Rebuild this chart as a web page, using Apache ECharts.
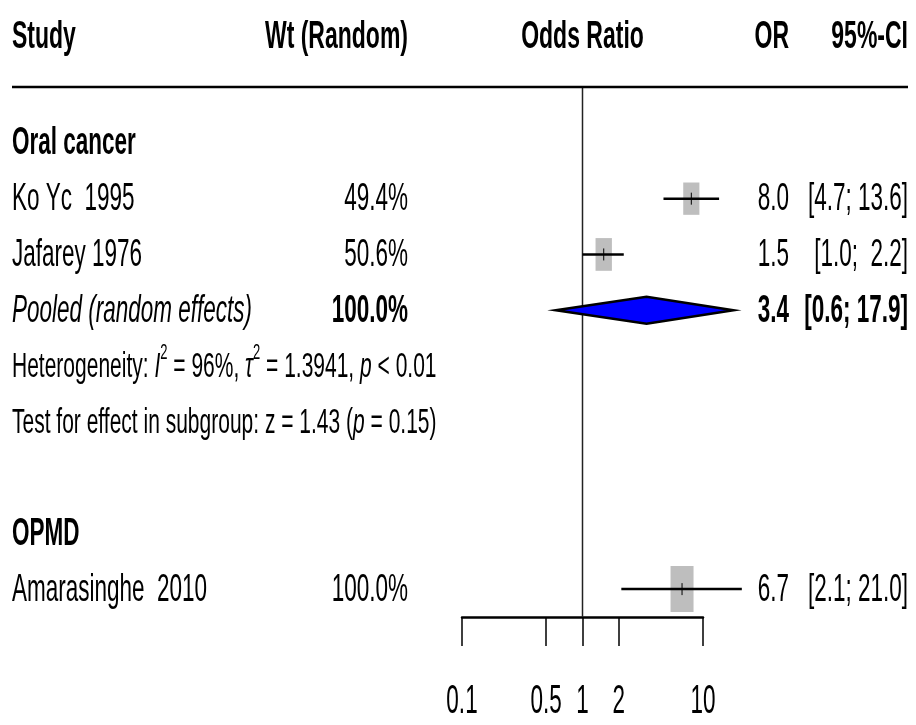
<!DOCTYPE html>
<html>
<head>
<meta charset="utf-8">
<script src="https://cdn.jsdelivr.net/npm/echarts@6/dist/echarts.min.js"></script>
<style>
  html, body { margin: 0; padding: 0; background: #fff; }
  #chart { width: 916px; height: 725px; }
</style>
</head>
<body>
<div id="chart"></div>
<script>
// ---- Study data (odds ratios with 95% confidence intervals) ----
const groupNames = ['Oral cancer', 'OPMD'];
const studyNames = ['Ko Yc  1995', 'Jafarey 1976', 'Amarasinghe  2010'];
const studyGroups = ['Oral cancer', 'Oral cancer', 'OPMD'];
const studyOR = [8.0, 1.5, 6.7];
const studyLower = [4.7, 1.0, 2.1];
const studyUpper = [13.6, 2.2, 21.0];
const studyWeight = [49.4, 50.6, 100.0];

// ---- Random-effects pooled estimates per subgroup ----
const pooledGroups = ['Oral cancer'];
const pooledOR = [3.4];
const pooledLower = [0.6];
const pooledUpper = [17.9];
const pooledWeight = [100.0];
const hetI2 = [96];
const hetTau2 = ['1.3941'];
const hetP = ['< 0.01'];
const testZ = ['1.43'];
const testP = ['0.15'];

// ---- Axis ticks ----
const tickValues = [0.1, 0.5, 1, 2, 10];
const tickLabels = ['0.1', '0.5', '1', '2', '10'];

// ---- Column headers ----
const headers = { study: 'Study', weight: 'Wt (Random)', effect: 'Odds Ratio', or: 'OR', ci: '95%-CI' };

// ---- Appearance ----
const FONT = "'Liberation Sans', Arial, Helvetica, sans-serif";
const SY = 1.7;           // vertical stretch of the text
const SIZE = 22.5;        // body text size
const SQUARE = 23;        // width of a square at 100% weight
const COL_STUDY = 12, COL_WT = 408, COL_OR = 789, COL_CI = 908;

// Build the table rows (one y-category per row)
const rows = [];
groupNames.forEach((g, gi) => {
  if (gi > 0) rows.push({ kind: 'spacer' });
  rows.push({ kind: 'group', name: g });
  studyNames.forEach((s, si) => {
    if (studyGroups[si] === g) rows.push({ kind: 'study', idx: si });
  });
  const pi = pooledGroups.indexOf(g);
  if (pi >= 0) {
    rows.push({ kind: 'pooled', idx: pi });
    rows.push({ kind: 'het', idx: pi });
    rows.push({ kind: 'test', idx: pi });
  }
});
const rowIndexOfStudy = studyNames.map((s, si) => rows.findIndex(r => r.kind === 'study' && r.idx === si));
const rowIndexOfPooled = pooledGroups.map((g, pi) => rows.findIndex(r => r.kind === 'pooled' && r.idx === pi));

const fmt1 = v => v.toFixed(1);
const ciText = (lo, hi) => '[' + fmt1(lo) + '; ' + fmt1(hi).padStart(4, ' ') + ']';

function label(x, y, text, align, o) {
  o = o || {};
  const style = {
    text: text, x: 0, y: 0, align: align, verticalAlign: 'middle', fill: '#000',
    fontSize: o.size || SIZE, fontFamily: FONT,
    fontWeight: o.weight || 'normal', fontStyle: o.italic ? 'italic' : 'normal'
  };
  if (o.rich) style.rich = o.rich;
  return { type: 'text', x: x, y: y, scaleY: o.scaleY || SY, silent: true, style: style };
}

function richStyles(size) {
  const base = { fontSize: size, fontFamily: FONT, lineHeight: 30, verticalAlign: 'middle', fill: '#000' };
  return {
    n: Object.assign({}, base),
    i: Object.assign({}, base, { fontStyle: 'italic' }),
    s: { fontSize: 13, fontFamily: FONT, lineHeight: 12, verticalAlign: 'top', fill: '#000' }
  };
}

function bandOf(api) { return api.size([0, 1])[1]; }

// Text columns for every table row
function renderTable(params, api) {
  const r = rows[params.dataIndex];
  const y = api.coord([1, params.dataIndex])[1] + 1;
  const kids = [];
  if (r.kind === 'group') {
    kids.push(label(COL_STUDY, y, r.name, 'left', { weight: 'bold' }));
  } else if (r.kind === 'study') {
    const i = r.idx;
    kids.push(label(COL_STUDY, y, studyNames[i], 'left'));
    kids.push(label(COL_WT, y, fmt1(studyWeight[i]) + '%', 'right'));
    kids.push(label(COL_OR, y, fmt1(studyOR[i]), 'right'));
    kids.push(label(COL_CI, y, ciText(studyLower[i], studyUpper[i]), 'right'));
  } else if (r.kind === 'pooled') {
    const i = r.idx;
    kids.push(label(COL_STUDY, y, 'Pooled (random effects)', 'left', { italic: true }));
    kids.push(label(COL_WT, y, fmt1(pooledWeight[i]) + '%', 'right', { weight: 'bold' }));
    kids.push(label(COL_OR, y, fmt1(pooledOR[i]), 'right', { weight: 'bold' }));
    kids.push(label(COL_CI, y, ciText(pooledLower[i], pooledUpper[i]), 'right', { weight: 'bold' }));
  } else if (r.kind === 'het') {
    const i = r.idx;
    const t = '{n|Heterogeneity: }{i|I}{s|2}{n| = ' + hetI2[i] + '%, }{i|\u03c4}{s|2}{n| = ' + hetTau2[i] + ', }{i|p}{n| ' + hetP[i] + '}';
    kids.push(label(COL_STUDY, y, t, 'left', { size: 21, rich: richStyles(21) }));
  } else if (r.kind === 'test') {
    const i = r.idx;
    const t = '{n|Test for effect in subgroup: z = ' + testZ[i] + ' (}{i|p}{n| = ' + testP[i] + ')}';
    kids.push(label(COL_STUDY, y, t, 'left', { size: 21, rich: richStyles(21) }));
  }
  return { type: 'group', children: kids };
}

// Column headings, rule under them and the line of no effect
function renderFrame(params, api) {
  const band = bandOf(api);
  const top = api.coord([1, 0])[1];
  const bottom = api.coord([1, rows.length - 1])[1] + band / 2;
  const ruleY = top - band;
  const headY = top - 1.9 * band;
  const x1 = api.coord([1, 0])[0];
  return {
    type: 'group',
    children: [
      { type: 'line', silent: true, shape: { x1: x1, y1: ruleY, x2: x1, y2: bottom }, style: { stroke: '#222', lineWidth: 1.5 } },
      { type: 'line', silent: true, shape: { x1: COL_STUDY, y1: ruleY, x2: COL_CI, y2: ruleY }, style: { stroke: '#000', lineWidth: 2.5 } },
      label(COL_STUDY, headY, headers.study, 'left', { weight: 'bold', size: 23 }),
      label(COL_WT, headY, headers.weight, 'right', { weight: 'bold', size: 23 }),
      label(x1, headY, headers.effect, 'center', { weight: 'bold', size: 23 }),
      label(COL_OR, headY, headers.or, 'right', { weight: 'bold', size: 23 }),
      label(COL_CI, headY, headers.ci, 'right', { weight: 'bold', size: 23 })
    ]
  };
}

// Study squares with confidence interval lines
function renderStudy(params, api) {
  const row = api.value(1);
  const c = api.coord([api.value(0), row]);
  const lo = api.coord([api.value(2), row]);
  const hi = api.coord([api.value(3), row]);
  const w = SQUARE * Math.sqrt(api.value(4) / 100);
  const h = w * 2;
  return {
    type: 'group',
    children: [
      { type: 'rect', shape: { x: c[0] - w / 2, y: c[1] - h / 2, width: w, height: h }, style: { fill: '#bebebe' } },
      { type: 'line', shape: { x1: lo[0], y1: c[1], x2: hi[0], y2: c[1] }, style: { stroke: '#000', lineWidth: 2.5 } },
      { type: 'line', shape: { x1: c[0], y1: c[1] - 6, x2: c[0], y2: c[1] + 6 }, style: { stroke: '#000', lineWidth: 1 } }
    ]
  };
}

// Pooled estimate diamond
function renderPooled(params, api) {
  const row = api.value(1);
  const c = api.coord([api.value(0), row]);
  const lo = api.coord([api.value(2), row]);
  const hi = api.coord([api.value(3), row]);
  const hh = 13.5;
  return {
    type: 'polygon',
    shape: { points: [[lo[0], c[1]], [c[0], c[1] - hh], [hi[0], c[1]], [c[0], c[1] + hh]] },
    style: { fill: '#0000ff', stroke: '#000', lineWidth: 2.5, lineJoin: 'miter' }
  };
}

// Tick labels under the log axis
function renderTickLabel(params, api) {
  const band = bandOf(api);
  const bottom = api.coord([1, rows.length - 1])[1] + band / 2;
  const x = api.coord([api.value(0), 0])[0];
  return label(x, bottom + 85, tickLabels[params.dataIndex], 'center', { size: 22.5, scaleY: 1.8 });
}

const chart = echarts.init(document.getElementById('chart'), null, { renderer: 'canvas' });
chart.setOption({
  animation: false,
  backgroundColor: '#fff',
  textStyle: { fontFamily: FONT },
  grid: { left: 462, right: 213, top: 115, bottom: 108, containLabel: false },
  xAxis: {
    type: 'log', logBase: 10, min: 0.1, max: 10,
    axisLine: { show: true, lineStyle: { color: '#000', width: 2.5 } },
    axisTick: { show: true, customValues: tickValues, length: 29, inside: false, lineStyle: { color: '#000', width: 1.5 } },
    axisLabel: { show: false },
    splitLine: { show: false },
    minorTick: { show: false }
  },
  yAxis: {
    type: 'category', inverse: true,
    data: rows.map((r, i) => String(i)),
    show: false
  },
  series: [
    { type: 'custom', name: 'frame', renderItem: renderFrame, data: [[1, 0]], encode: { x: 0, y: 1 }, z: 1 },
    { type: 'custom', name: 'table', renderItem: renderTable, data: rows.map((r, i) => [1, i]), encode: { x: 0, y: 1 }, z: 3 },
    {
      type: 'custom', name: 'studies', renderItem: renderStudy, z: 2,
      data: studyNames.map((s, i) => [studyOR[i], rowIndexOfStudy[i], studyLower[i], studyUpper[i], studyWeight[i]]),
      encode: { x: 0, y: 1 }
    },
    {
      type: 'custom', name: 'pooled', renderItem: renderPooled, z: 2,
      data: pooledGroups.map((g, i) => [pooledOR[i], rowIndexOfPooled[i], pooledLower[i], pooledUpper[i]]),
      encode: { x: 0, y: 1 }
    },
    { type: 'custom', name: 'ticks', renderItem: renderTickLabel, data: tickValues.map(v => [v, 0]), encode: { x: 0, y: 1 }, z: 3 }
  ]
});
</script>
</body>
</html>
